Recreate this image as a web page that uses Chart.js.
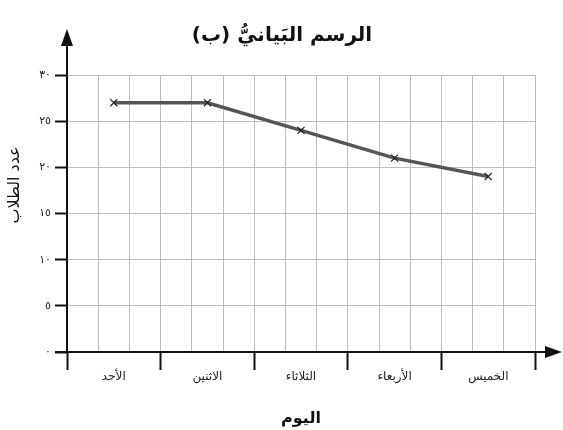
<!DOCTYPE html>
<html lang="ar">
<head>
<meta charset="utf-8">
<script src="https://cdn.jsdelivr.net/npm/chart.js@4"></script>
<style>
  html, body { margin: 0; padding: 0; background: #fff; }
  #wrap { width: 563px; height: 430px; }
</style>
</head>
<body>
<div id="wrap"><canvas id="chart" width="563" height="430"></canvas></div>
<script>
// البيانات
const ayyam = ['الأحد', 'الاثنين', 'الثلاثاء', 'الأربعاء', 'الخميس'];
const tullab = [27, 27, 24, 21, 19];
const yTicks = [0, 5, 10, 15, 20, 25, 30];
const title = 'الرسم البَيانيُّ (ب)';
const yTitle = 'عدد الطلاب';
const xTitle = 'اليوم';

const FONT = '"DejaVu Sans", sans-serif';
const arDigits = '٠١٢٣٤٥٦٧٨٩';
const toArabic = n => String(n).replace(/\d/g, d => arDigits[d]);

// المحاور والأسهم والعناوين
const axesPlugin = {
  id: 'axes',
  afterDraw(chart) {
    const { ctx, chartArea: a } = chart;
    ctx.save();
    ctx.strokeStyle = '#111';
    ctx.fillStyle = '#111';
    ctx.lineWidth = 2;
    // y
    ctx.beginPath();
    ctx.moveTo(a.left, a.bottom + 1);
    ctx.lineTo(a.left, 44);
    ctx.stroke();
    ctx.beginPath();
    ctx.moveTo(a.left, 29);
    ctx.lineTo(a.left - 6, 46);
    ctx.lineTo(a.left + 6, 46);
    ctx.closePath();
    ctx.fill();
    // x
    ctx.beginPath();
    ctx.moveTo(a.left - 12, a.bottom);
    ctx.lineTo(548, a.bottom);
    ctx.stroke();
    ctx.beginPath();
    ctx.moveTo(562, a.bottom);
    ctx.lineTo(545, a.bottom - 6);
    ctx.lineTo(545, a.bottom + 6);
    ctx.closePath();
    ctx.fill();

    ctx.direction = 'rtl';
    ctx.textAlign = 'center';
    ctx.textBaseline = 'middle';
    ctx.font = 'bold 20px ' + FONT;
    ctx.fillText(title, 282, 36);

    ctx.translate(15, 185);
    ctx.rotate(-Math.PI / 2);
    ctx.font = '16px ' + FONT;
    ctx.fillText(yTitle, 0, 0);
    ctx.restore();
  }
};

new Chart(document.getElementById('chart'), {
  type: 'line',
  data: {
    labels: ayyam,
    datasets: [{
      data: tullab,
      borderColor: '#555',
      borderWidth: 3.5,
      tension: 0,
      pointStyle: 'crossRot',
      pointRadius: 5,
      pointBorderColor: '#222',
      pointBorderWidth: 1.2,
      pointBackgroundColor: '#222'
    }]
  },
  options: {
    responsive: false,
    animation: false,
    layout: { padding: { left: 0, right: 28, top: 75, bottom: 0 } },
    plugins: {
      legend: { display: false },
      tooltip: { enabled: false },
      title: { display: false }
    },
    scales: {
      x: {
        type: 'category',
        offset: true,
        border: { display: false },
        grid: {
          offset: true,
          drawOnChartArea: false,
          tickColor: '#111',
          tickWidth: 2,
          tickLength: 18
        },
        ticks: {
          color: '#222',
          padding: 0,
          font: { family: FONT, size: 12 }
        },
        title: {
          display: true,
          text: xTitle,
          color: '#111',
          padding: { top: 0, bottom: 2 },
          font: { family: FONT, size: 16, weight: 'bold' }
        },
        afterFit(s) { s.height = 78; }
      },
      x2: {
        type: 'linear',
        position: 'top',
        min: 0,
        max: 15,
        border: { display: false },
        grid: { color: '#bdbdbd', lineWidth: 1, drawTicks: false },
        ticks: { display: false, stepSize: 1 },
        afterFit(s) { s.height = 0; }
      },
      y: {
        min: 0,
        max: 30,
        border: { display: false },
        afterBuildTicks(s) { s.ticks = yTicks.map(v => ({ value: v })); },
        grid: {
          color: '#bdbdbd',
          lineWidth: 1,
          tickColor: '#111',
          tickWidth: 2,
          tickLength: 12
        },
        ticks: {
          color: '#222',
          padding: 4,
          font: { family: FONT, size: 11 },
          callback: v => toArabic(v)
        },
        afterFit(s) { s.width = 67; }
      }
    }
  },
  plugins: [axesPlugin]
});
</script>
</body>
</html>
